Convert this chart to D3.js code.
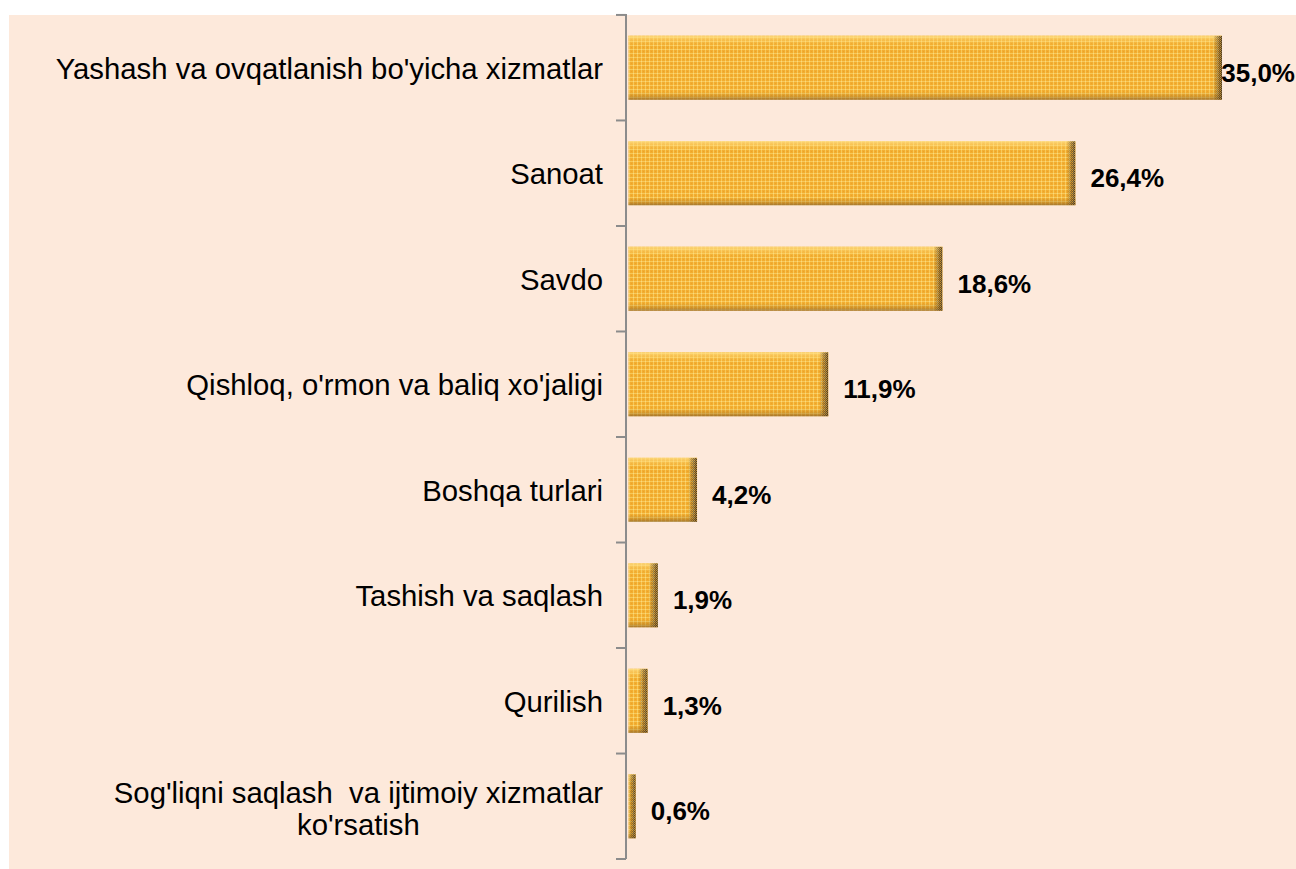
<!DOCTYPE html>
<html>
<head>
<meta charset="utf-8">
<script src="https://cdn.jsdelivr.net/npm/d3@7"></script>
<style>
  html, body { margin: 0; padding: 0; background: #ffffff; }
  svg { display: block; }
  text { font-family: "Liberation Sans", Arial, sans-serif; }
</style>
</head>
<body>
<svg id="chart" width="1296" height="869"></svg>
<script>
// ---- data ----
const categories = [
  "Yashash va ovqatlanish bo'yicha xizmatlar",
  "Sanoat",
  "Savdo",
  "Qishloq, o'rmon va baliq xo'jaligi",
  "Boshqa turlari",
  "Tashish va saqlash",
  "Qurilish",
  "Sog'liqni saqlash  va ijtimoiy xizmatlar\nko'rsatish"
];
const values = [35.0, 26.4, 18.6, 11.9, 4.2, 1.9, 1.3, 0.6];
const valueSuffix = "%";

// ---- layout ----
const W = 1296, H = 869;
const svg = d3.select("#chart");
const defs = svg.append("defs");

// background panel
svg.append("rect").attr("x", 9).attr("y", 15).attr("width", W - 9).attr("height", H - 15)
  .attr("fill", "#FDE9DB");

const axisX = 626;
const x = d3.scaleLinear().domain([0, 35]).range([625.5, 1222]);
const y = d3.scaleBand().domain(categories).range([15, 859]).paddingInner(0.393).paddingOuter(0.196);

// texture pattern
const pat = defs.append("pattern").attr("id", "tex").attr("patternUnits", "userSpaceOnUse")
  .attr("width", 4).attr("height", 4);
pat.append("rect").attr("width", 4).attr("height", 4).attr("fill", "#F2AD30");
pat.append("rect").attr("x", 0).attr("y", 1).attr("width", 4).attr("height", 1).attr("fill", "#F8C958");
pat.append("rect").attr("x", 1).attr("y", 0).attr("width", 1).attr("height", 4).attr("fill", "#F8C958");
pat.append("rect").attr("x", 1).attr("y", 1).attr("width", 1).attr("height", 1).attr("fill", "#FBD880");
pat.append("rect").attr("x", 3).attr("y", 3).attr("width", 1).attr("height", 1).attr("fill", "#EDA42A");

// dark dither pattern for the right shadow
const dpat = defs.append("pattern").attr("id", "dither").attr("patternUnits", "userSpaceOnUse")
  .attr("width", 2).attr("height", 2);
dpat.append("rect").attr("width", 2).attr("height", 2).attr("fill", "#3a2e1e");
dpat.append("rect").attr("x", 0).attr("y", 0).attr("width", 1).attr("height", 1).attr("fill", "#b88a3a");
dpat.append("rect").attr("x", 1).attr("y", 1).attr("width", 1).attr("height", 1).attr("fill", "#8a6a35");

// vertical shading gradient
const vg = defs.append("linearGradient").attr("id", "vshade").attr("x1", 0).attr("y1", 0).attr("x2", 0).attr("y2", 1);
[[0, "#FFE08A", 0.8], [0.07, "#FFDA78", 0.4], [0.15, "#FFD870", 0], [0.88, "#9a6a20", 0],
 [0.95, "#9a6a20", 0.35], [1, "#7a5a30", 0.65]].forEach(s =>
  vg.append("stop").attr("offset", s[0]).attr("stop-color", s[1]).attr("stop-opacity", s[2]));

// right-edge mask gradient
const hg = defs.append("linearGradient").attr("id", "hshade").attr("x1", 0).attr("y1", 0).attr("x2", 1).attr("y2", 0);
[[0, 0], [0.45, 0.45], [1, 0.95]].forEach(s =>
  hg.append("stop").attr("offset", s[0]).attr("stop-color", "#fff").attr("stop-opacity", s[1]));
defs.append("mask").attr("id", "edgeMask").attr("maskContentUnits", "objectBoundingBox")
  .append("rect").attr("width", 1).attr("height", 1).attr("fill", "url(#hshade)");

// bars
const bars = svg.append("g").selectAll("g").data(values).join("g");
bars.each(function (v, i) {
  const g = d3.select(this);
  const x0 = x(0) + 3, x1 = x(v);
  const bw = Math.max(2, x1 - x0);
  const by = y(categories[i]), bh = y.bandwidth();
  g.append("rect").attr("x", x0).attr("y", by).attr("width", bw).attr("height", bh).attr("fill", "url(#tex)");
  g.append("rect").attr("x", x0).attr("y", by).attr("width", bw).attr("height", bh).attr("fill", "url(#vshade)");
  const ew = Math.min(9, bw);
  g.append("rect").attr("x", x1 - ew).attr("y", by).attr("width", ew).attr("height", bh)
    .attr("fill", "url(#dither)").attr("mask", "url(#edgeMask)");
});

// axis
svg.append("line").attr("x1", axisX).attr("x2", axisX).attr("y1", 14).attr("y2", 859)
  .attr("stroke", "#8c8c8c").attr("stroke-width", 2);
const tickYs = categories.map(c => y(c) - y.step() * y.paddingInner() / 2).concat([859]);
svg.append("g").selectAll("line").data(tickYs).join("line")
  .attr("x1", 616).attr("x2", axisX).attr("y1", d => d).attr("y2", d => d)
  .attr("stroke", "#8c8c8c").attr("stroke-width", 2);

// category labels
const labelRight = 603;
const catSize = 29.3;
categories.forEach((c, i) => {
  const cy = y(c) + y.bandwidth() / 2;
  const lines = c.split("\n");
  if (lines.length === 1) {
    svg.append("text").attr("x", labelRight).attr("y", cy + 11)
      .attr("text-anchor", "end").attr("font-size", catSize).attr("fill", "#000")
      .style("white-space", "pre").text(lines[0]);
  } else {
    const t1 = svg.append("text").attr("x", labelRight).attr("y", cy - 3)
      .attr("text-anchor", "end").attr("font-size", catSize).attr("fill", "#000")
      .style("white-space", "pre").text(lines[0]);
    const w1 = t1.node().getComputedTextLength();
    svg.append("text").attr("x", labelRight - w1 / 2).attr("y", cy + 29)
      .attr("text-anchor", "middle").attr("font-size", catSize).attr("fill", "#000")
      .text(lines[1]);
  }
});

// value labels
const fmt = v => d3.format(".1f")(v).replace(".", ",") + valueSuffix;
values.forEach((v, i) => {
  const cy = y(categories[i]) + y.bandwidth() / 2;
  const t = svg.append("text").attr("y", cy + 14)
    .attr("font-size", 26).attr("font-weight", "bold").attr("fill", "#000").text(fmt(v));
  const tw = t.node().getComputedTextLength();
  const xs = Math.min(x(v) + 15, W - tw - 1);
  t.attr("x", xs);
});
</script>
</body>
</html>
